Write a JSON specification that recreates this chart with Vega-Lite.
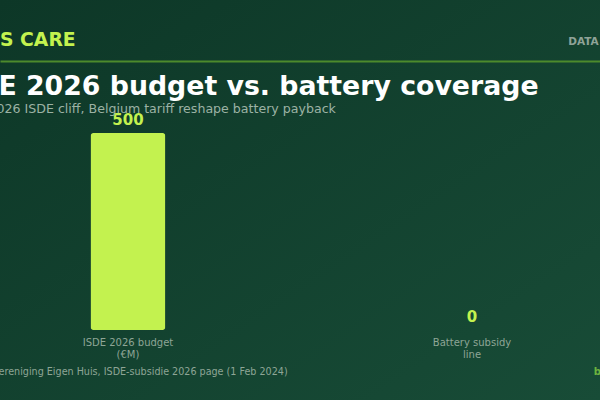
{
  "$schema": "https://vega.github.io/schema/vega-lite/v6.json",
  "width": 600,
  "height": 400,
  "autosize": "none",
  "padding": 0,
  "background": "#123f2e",
  "title": {
    "text": "ISDE 2026 budget vs. battery coverage",
    "subtitle": "Dutch 2026 ISDE cliff, Belgium tariff reshape battery payback",
    "anchor": "start",
    "frame": "group",
    "orient": "top",
    "dx": -53,
    "dy": 120,
    "font": "DejaVu Sans",
    "fontSize": 26.75,
    "fontWeight": "bold",
    "color": "#ffffff",
    "subtitleFont": "DejaVu Sans",
    "subtitleFontSize": 12.6,
    "subtitleColor": "#9cb2a4",
    "subtitlePadding": 3
  },
  "data": {
    "values": [
      {"item": "ISDE 2026 budget (€M)", "value": 500},
      {"item": "Battery subsidy line", "value": 0}
    ]
  },
  "layer": [
    {
      "data": {"values": [{}]},
      "mark": {
        "type": "rect",
        "color": {
          "gradient": "linear",
          "x1": 0, "y1": 0, "x2": 1, "y2": 1,
          "stops": [
            {"offset": 0, "color": "#0d3727"},
            {"offset": 1, "color": "#184c37"}
          ]
        }
      },
      "encoding": {}
    },
    {
      "mark": {"type": "bar", "color": "#c3f24f", "cornerRadius": 3},
      "encoding": {
        "x": {
          "field": "item",
          "type": "nominal",
          "sort": null,
          "scale": {"type": "band", "paddingInner": 0.782, "paddingOuter": 0.263},
          "axis": {
            "orient": "bottom",
            "offset": -70,
            "zindex": 1,
            "domain": false,
            "ticks": false,
            "grid": false,
            "labelAngle": 0,
            "labelFontSize": 10,
            "labelColor": "#8ea596",
            "labelPadding": 7,
            "labelLineHeight": 12.7,
            "labelExpr": "[slice(datum.label, 0, lastindexof(datum.label, ' ')), slice(datum.label, lastindexof(datum.label, ' ') + 1)]",
            "title": "Source: Vereniging Eigen Huis, ISDE-subsidie 2026 page (1 Feb 2024)",
            "titleFontSize": 9.6,
            "titleFontWeight": "normal",
            "titleColor": "#8ea596",
            "titleAlign": "left",
            "titleBaseline": "middle",
            "titleX": -47,
            "titleY": 41.7
          }
        },
        "y": {
          "field": "value",
          "type": "quantitative",
          "scale": {"domain": [-177.66, 837.56], "nice": false, "zero": false},
          "axis": {
            "orient": "left",
            "zindex": 1,
            "labels": false,
            "ticks": false,
            "domain": false,
            "grid": false,
            "title": "DATA",
            "titleAngle": 0,
            "titleAlign": "left",
            "titleBaseline": "middle",
            "titleX": 567.7,
            "titleY": 41.7,
            "titleFontSize": 10.5,
            "titleFontWeight": "bold",
            "titleColor": "#8fa398"
          }
        }
      }
    },
    {
      "mark": {"type": "text", "dy": -8, "baseline": "alphabetic", "fontSize": 15, "fontWeight": "bold", "color": "#c3f24f"},
      "encoding": {
        "x": {
          "field": "item",
          "type": "nominal",
          "sort": null,
          "axis": {
            "orient": "top",
            "offset": -61,
            "zindex": 1,
            "domain": true,
            "domainColor": "#4d8a2c",
            "domainWidth": 2,
            "ticks": false,
            "labels": false,
            "grid": false,
            "title": "S CARE",
            "titleFontSize": 18.8,
            "titleFontWeight": "bold",
            "titleColor": "#c3f24f",
            "titleAlign": "left",
            "titleBaseline": "middle",
            "titleX": -0.5,
            "titleY": -22
          }
        },
        "y": {
          "field": "value",
          "type": "quantitative",
          "axis": {
            "orient": "right",
            "zindex": 1,
            "labels": false,
            "ticks": false,
            "domain": false,
            "grid": false,
            "title": "b",
            "titleAngle": 0,
            "titleAlign": "left",
            "titleBaseline": "middle",
            "titleX": -6.7,
            "titleY": 371,
            "titleFontSize": 10,
            "titleFontWeight": "bold",
            "titleColor": "#6db33f"
          }
        },
        "text": {"field": "value", "type": "quantitative"}
      }
    }
  ],
  "resolve": {"axis": {"x": "independent", "y": "independent"}},
  "config": {
    "font": "DejaVu Sans",
    "view": {"stroke": null}
  }
}
